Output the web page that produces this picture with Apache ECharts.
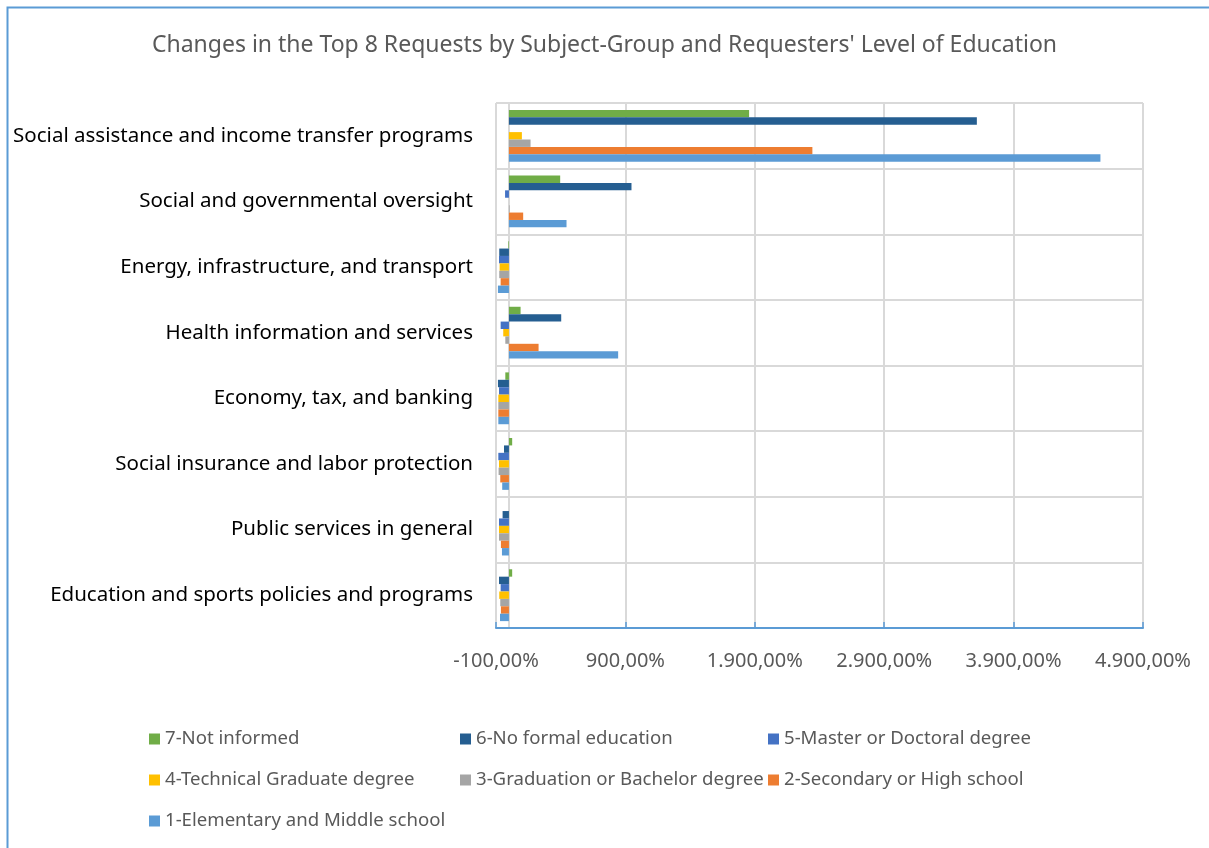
<!DOCTYPE html>
<html>
<head>
<meta charset="utf-8">
<script src="https://cdn.jsdelivr.net/npm/echarts@6/dist/echarts.min.js"></script>
<style>
  html, body { margin: 0; padding: 0; background: #fff; }
  #chart { width: 1209px; height: 848px; }
</style>
</head>
<body>
<div id="chart"></div>
<script>
// categories top to bottom
const categories = [
  "Social assistance and income transfer programs",
  "Social and governmental oversight",
  "Energy, infrastructure, and transport",
  "Health information and services",
  "Economy, tax, and banking",
  "Social insurance and labor protection",
  "Public services in general",
  "Education and sports policies and programs"
];

const seriesNames = [
  "7-Not informed",
  "6-No formal education",
  "5-Master or Doctoral degree",
  "4-Technical Graduate degree",
  "3-Graduation or Bachelor degree",
  "2-Secondary or High school",
  "1-Elementary and Middle school"
];

const colors = ["#70ad47", "#255e91", "#4472c4", "#ffc000", "#a5a5a5", "#ed7d31", "#5b9bd5"];

// values in percent, per category (same order as categories)
const notInformed   = [1856, 396, -5, 90, -28, 25, null, 25];
const noFormal      = [3616, 947, -75, 404, -85, -38, -49, -77];
const masterDoc     = [null, -30, -77, -64, -77, -82, -77, -64];
const technical     = [100, null, -72, -44, -82, -77, -77, -75];
const bachelor      = [167, 5, -75, -28, -82, -80, -77, -67];
const secondary     = [2345, 110, -64, 229, -82, -67, -62, -62];
const elementary    = [4571, 445, -85, 844, -82, -52, -54, -69];

const values = [notInformed, noFormal, masterDoc, technical, bachelor, secondary, elementary];

const xTicks = { min: -100, max: 4900, interval: 1000 };

function fmtPct(v) {
  const neg = v < 0;
  const parts = Math.abs(v).toFixed(2).split(".");
  const intPart = parts[0].replace(/\B(?=(\d{3})+(?!\d))/g, ".");
  return (neg ? "-" : "") + intPart + "," + parts[1] + "%";
}

const chart = echarts.init(document.getElementById("chart"));

const textColor = "#595959";
const font = "'Noto Sans', sans-serif";

const legendCols = [
  { left: 144, names: [seriesNames[0], seriesNames[3], seriesNames[6]] },
  { left: 455, names: [seriesNames[1], seriesNames[4]] },
  { left: 763, names: [seriesNames[2], seriesNames[5]] }
];

const option = {
  animation: false,
  color: colors,
  title: {
    text: "Changes in the Top 8 Requests by Subject-Group and Requesters' Level of Education",
    left: "center",
    top: 29,
    textStyle: { fontFamily: font, fontSize: 23, fontWeight: "normal", color: textColor }
  },
  legend: legendCols.map(c => ({
    data: c.names,
    orient: "vertical",
    left: c.left,
    top: 724,
    itemWidth: 11,
    itemHeight: 11,
    itemGap: 21,
    icon: "rect",
    selectedMode: false,
    textStyle: { fontFamily: font, fontSize: 18.6, lineHeight: 20, color: textColor }
  })),
  grid: { left: 496, right: 66, top: 103, bottom: 220 },
  xAxis: {
    type: "value",
    min: xTicks.min,
    max: xTicks.max,
    interval: xTicks.interval,
    axisLine: { show: true, lineStyle: { color: "#5b9bd5", width: 2 } },
    axisTick: { show: true, inside: true, length: 6, lineStyle: { color: "#5b9bd5", width: 1.5 } },
    axisLabel: {
      formatter: fmtPct,
      margin: 23,
      fontFamily: font,
      fontSize: 20,
      color: textColor
    },
    splitLine: { show: true, lineStyle: { color: "#d9d9d9", width: 2 } }
  },
  yAxis: {
    type: "category",
    inverse: true,
    data: categories,
    axisLine: { show: true, onZero: true, lineStyle: { color: "#d9d9d9", width: 2 } },
    axisTick: { show: false },
    axisLabel: {
      margin: 23,
      fontFamily: font,
      fontSize: 20.5,
      color: "#000"
    },
    splitLine: { show: true, lineStyle: { color: "#d9d9d9", width: 2 } }
  },
  series: seriesNames.map((name, i) => ({
    name: name,
    type: "bar",
    data: values[i],
    barGap: "0%",
    barCategoryGap: "21%",
    itemStyle: { color: colors[i] }
  })),
  graphic: [{
    type: "rect",
    shape: { x: 7.5, y: 7.5, width: 1400, height: 1000 },
    style: { fill: "none", stroke: "#5b9bd5", lineWidth: 2 },
    silent: true
  }]
};

chart.setOption(option);
</script>
</body>
</html>
